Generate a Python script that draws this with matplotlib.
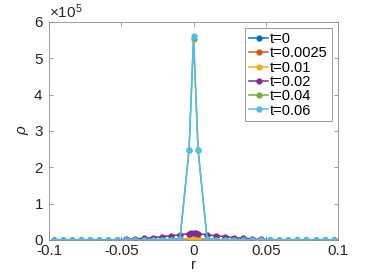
import numpy as np
import matplotlib
matplotlib.use("Agg")
import matplotlib.pyplot as plt

plt.rcParams['font.family'] = ['Liberation Sans', 'DejaVu Sans']
plt.rcParams['mathtext.fontset'] = 'custom'
plt.rcParams['mathtext.rm'] = 'Liberation Sans'
plt.rcParams['mathtext.it'] = 'Liberation Sans:italic'
plt.rcParams['axes.unicode_minus'] = False

# radial grid points (finer mesh near r=0 for the early times)
r_fine = [-0.096875, -0.090625, -0.084375, -0.078125, -0.071875, -0.065625,
          -0.059375, -0.053125, -0.046875, -0.040625, -0.034375, -0.028125,
          -0.021875, -0.015625, -0.009375, -0.003125, -0.0015625, 0.0,
          0.0015625, 0.003125, 0.009375, 0.015625, 0.021875, 0.028125,
          0.034375, 0.040625, 0.046875, 0.053125, 0.059375, 0.065625,
          0.071875, 0.078125, 0.084375, 0.090625, 0.096875]
r_coarse = [-0.096875, -0.090625, -0.084375, -0.078125, -0.071875, -0.065625,
            -0.059375, -0.053125, -0.046875, -0.040625, -0.034375, -0.028125,
            -0.021875, -0.015625, -0.009375, -0.003125, 0.0,
            0.003125, 0.009375, 0.015625, 0.021875, 0.028125,
            0.034375, 0.040625, 0.046875, 0.053125, 0.059375, 0.065625,
            0.071875, 0.078125, 0.084375, 0.090625, 0.096875]

# density rho at each time
rho_t0 = [0, 0, 0, 0, 0, 10, 20, 40, 80, 150, 250, 400, 600, 800, 1000, 1150,
          1180, 1200, 1180, 1150, 1000, 800, 600, 400, 250, 150, 80, 40, 20, 10,
          0, 0, 0, 0, 0]
rho_t0025 = [0, 0, 0, 0, 10, 20, 40, 80, 150, 250, 400, 600, 900, 1200, 1600,
             1950, 2000, 2050, 2000, 1950, 1600, 1200, 900, 600, 400, 250, 150,
             80, 40, 20, 10, 0, 0, 0, 0]
rho_t001 = [0, 0, 10, 20, 30, 50, 80, 120, 180, 260, 380, 550, 800, 1500, 2600,
            3700, 3900, 4000, 3900, 3700, 2600, 1500, 800, 550, 380, 260, 180,
            120, 80, 50, 30, 20, 10, 0, 0]
rho_t002 = [0, 0, 0, 0, 50, 100, 250, 700, 1500, 2800, 4500, 6500, 9000, 11500,
            14000, 17500, 18500, 19000, 18500, 17500, 14000, 11500, 9000, 6500,
            4500, 2800, 1500, 700, 250, 100, 50, 0, 0, 0, 0]
rho_t004 = [0, 0, 0, 0, 0, 0, 0, 0, 10, 20, 40, 80, 150, 400, 3000, 247000,
            553000, 247000, 3000, 400, 150, 80, 40, 20, 10, 0, 0, 0, 0, 0, 0,
            0, 0]
rho_t006 = [0, 0, 0, 0, 0, 0, 0, 0, 10, 20, 40, 80, 150, 400, 3000, 248000,
            560000, 248000, 3000, 400, 150, 80, 40, 20, 10, 0, 0, 0, 0, 0, 0,
            0, 0]

series = [(r_fine, rho_t0, '#0072BD', 't=0'),
          (r_fine, rho_t0025, '#D95319', 't=0.0025'),
          (r_fine, rho_t001, '#EDB120', 't=0.01'),
          (r_fine, rho_t002, '#7E2F8E', 't=0.02'),
          (r_coarse, rho_t004, '#77AC30', 't=0.04'),
          (r_coarse, rho_t006, '#4DBEEE', 't=0.06')]

fig = plt.figure(figsize=(3.74, 2.8), dpi=100)
ax = fig.add_axes([0.131, 0.143, 0.773, 0.779])

for r, rho, c, lab in series:
    ax.plot(r, rho, '-o', color=c, lw=1.1, ms=3.5, mfc=c, mec=c, label=lab)

ax.set_xlim(-0.1, 0.1)
ax.set_ylim(0, 6e5)
ax.set_xticks([-0.1, -0.05, 0, 0.05, 0.1])
ax.set_xticklabels(['-0.1', '-0.05', '0', '0.05', '0.1'])
ax.set_yticks([0, 1e5, 2e5, 3e5, 4e5, 5e5, 6e5])
ax.ticklabel_format(axis='y', style='sci', scilimits=(0, 0), useMathText=True)
ax.yaxis.get_offset_text().set_fontsize(11)
ax.yaxis.get_offset_text().set_color('#262626')

for s in ax.spines.values():
    s.set_color('#8a8a8a')
    s.set_linewidth(0.6)
ax.tick_params(direction='in', top=True, right=True, length=3, width=0.6,
               color='#8a8a8a', labelsize=11, labelcolor='#262626')
ax.tick_params(axis='x', pad=3)
ax.tick_params(axis='y', pad=4)

ax.set_xlabel('r', fontsize=11, color='#262626', labelpad=0)
ax.set_ylabel('ρ', fontsize=11, color='#262626', style='italic', labelpad=3)

leg = ax.legend(loc='upper right', fontsize=10.5, frameon=True, fancybox=False,
                framealpha=1, edgecolor='#8a8a8a', borderaxespad=0.45,
                handlelength=1.35, handletextpad=0.12, labelspacing=0.02,
                borderpad=0.25)
leg.get_frame().set_linewidth(0.6)

fig.savefig('out.png', dpi=100)
